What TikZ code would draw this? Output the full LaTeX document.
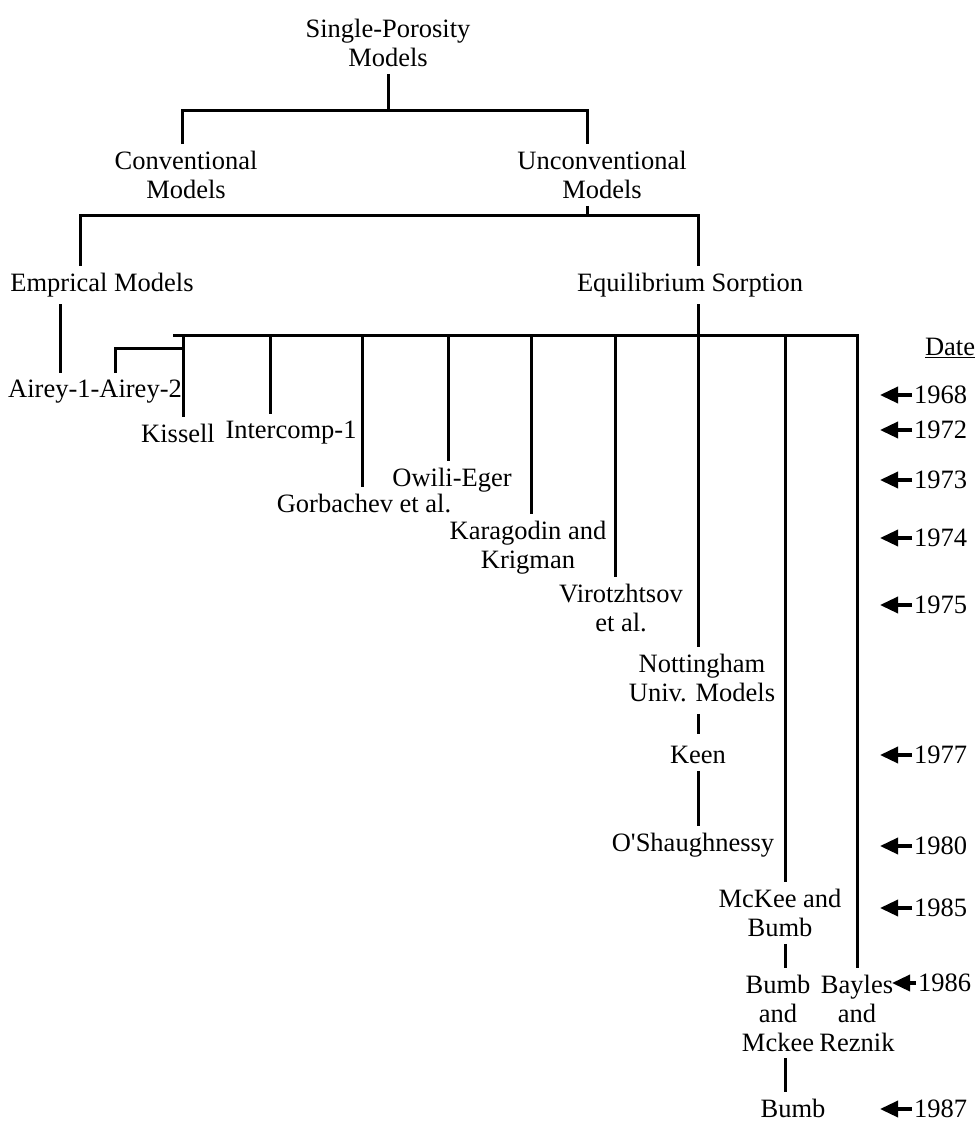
\documentclass[tikz,border=0pt]{standalone}
\usepackage{fontspec}
\setmainfont{Liberation Serif}
\usetikzlibrary{arrows.meta}
\tikzset{
    lbl/.style={inner sep=0pt, outer sep=7pt, align=center, font=\fontsize{26.5pt}{29pt}\selectfont},
    year/.style={lbl, anchor=west, outer sep=2pt},
    tree/.style={line width=3pt},
    datearrow/.style={line width=3.5pt, -{Triangle[length=18pt,width=16pt]}}
}
\begin{document}
\begin{tikzpicture}[x=1pt, y=-1pt]
        \useasboundingbox (0,0) rectangle (978,1123);
        \node[lbl] (sp) at (388, 43) {Single-Porosity\\Models};
        \node[lbl] (conv) at (186, 175) {Conventional\\Models};
        \node[lbl] (unconv) at (602, 175) {Unconventional\\Models};
        \node[lbl] (emp) at (102, 285) {Emprical Models};
        \node[lbl] (eqs) at (690, 285) {Equilibrium Sorption};
        \node[lbl] (airey) at (95, 392) {Airey-1-Airey-2};
        \node[lbl] (kis) at (178, 433) {Kissell};
        \node[lbl] (icomp) at (291, 433) {Intercomp-1};
        \node[lbl] (gorb) at (364, 503) {Gorbachev et al.};
        \node[lbl] (owili) at (452, 480) {Owili-Eger};
        \node[lbl] (kara) at (528, 548) {Karagodin and\\Krigman};
        \node[lbl] (viro) at (621, 608) {Virotzhtsov\\et al.};
        \node[lbl] (nott) at (702, 678) {Nottingham\\Univ. Models};
        \node[lbl] (keen) at (698, 755) {Keen};
        \node[lbl] (osh) at (693, 845) {O\textquotesingle Shaughnessy};
        \node[lbl] (mckee) at (780, 913) {McKee and\\Bumb};
        \node[lbl] (bumbmck) at (778, 1013) {Bumb\\and\\Mckee};
        \node[lbl] (bayles) at (857, 1013) {Bayles\\and\\Reznik};
        \node[lbl] (bumb) at (793, 1108) {Bumb};
        \node[lbl] (date) at (950, 348) {\underline{Date}};
        \node[year] (y1968) at (912, 395) {1968};
        \node[year] (y1972) at (912, 430) {1972};
        \node[year] (y1973) at (912, 480) {1973};
        \node[year] (y1974) at (912, 538) {1974};
        \node[year] (y1975) at (912, 605) {1975};
        \node[year] (y1977) at (912, 755) {1977};
        \node[year] (y1980) at (912, 846) {1980};
        \node[year] (y1985) at (912, 908) {1985};
        \node[year] (y1986) at (916, 983) {1986};
        \node[year] (y1987) at (912, 1109) {1987};
        \coordinate (b1l) at (182, 111);
        \coordinate (b1r) at (587, 111);
        \coordinate (b2t) at (587, 216);
        \coordinate (b2l) at (80, 216);
        \coordinate (b2r) at (698, 216);
        \coordinate (emx) at (60, 0);
        \coordinate (b3l) at (173, 335);
        \coordinate (b3r) at (857, 335);
        \coordinate (ab) at (115, 348);
        \coordinate (d1) at (183, 335);
        \coordinate (d2) at (270, 335);
        \coordinate (d3) at (362, 335);
        \coordinate (d4) at (448, 335);
        \coordinate (d5) at (531, 335);
        \coordinate (d6) at (615, 335);
        \coordinate (d7) at (785, 335);
        \coordinate (tipx) at (880, 0);
        \coordinate (tip86) at (892, 0);
        \draw[tree] (sp.south) -- (sp.south |- b1l);
        \draw[tree] (conv.north -| b1l) |- (b1r) -- (unconv.north -| b1r);
        \draw[tree] (unconv.south -| b2t) -- (b2t);
        \draw[tree] (emp.north -| b2l) |- (b2r) -- (eqs.north -| b2r);
        \draw[tree] (emp.south -| emx) -- (airey.north -| emx);
        \draw[tree] (eqs.south -| b2r) -- (nott.north -| b2r);
        \draw[tree] (b3l) -- (b3r) -- (b3r |- bayles.north);
        \foreach \d/\n in {d1/kis, d2/icomp, d3/gorb, d4/owili, d5/kara, d6/viro, d7/mckee}
            \draw[tree] (\d) -- (\d |- \n.north);
        \draw[tree] (ab -| d1) -- (ab) -- (ab |- airey.north);
        \draw[tree, shorten <=5pt, shorten >=5pt] (nott.south -| b2r) -- (keen.north -| b2r);
        \draw[tree] (keen.south -| b2r) -- (osh.north -| b2r);
        \draw[tree] (mckee.south -| d7) -- (bumbmck.north -| d7);
        \draw[tree] (bumbmck.south -| d7) -- (bumb.north -| d7);
        \foreach \y in {1968, 1972, 1973, 1974, 1975, 1977, 1980, 1985, 1987}
            \draw[datearrow] (y\y.west) -- (y\y.west -| tipx);
        \draw[datearrow] (y1986.west) -- (y1986.west -| tip86);
    \end{tikzpicture}
\end{document}
